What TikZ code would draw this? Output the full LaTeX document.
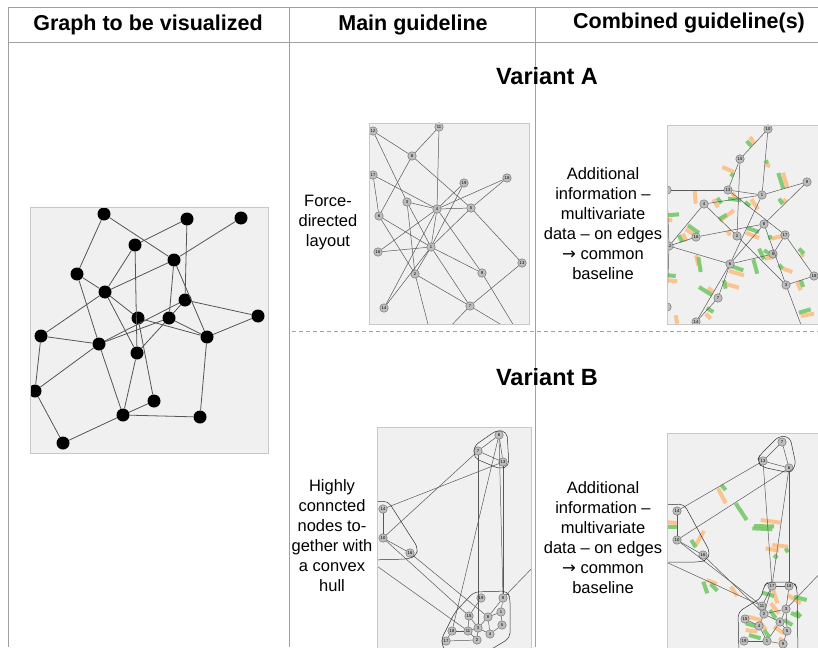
\documentclass[tikz,border=0pt]{standalone}
\usepackage{fontspec}
\setmainfont{Liberation Sans}
\newfontfamily\arrowfont{DejaVu Sans}
\usetikzlibrary{calc}
\definecolor{panelgray}{HTML}{F0F0F0}
\definecolor{panelline}{HTML}{C8C8C8}
\definecolor{rulegray}{HTML}{A0A0A0}
\definecolor{edgegray}{HTML}{555555}
\definecolor{nodegray}{HTML}{BDBDBD}
\definecolor{barorange}{HTML}{FDBF86}
\definecolor{bargreen}{HTML}{78C96A}
\newcommand*{\bnode}[3]{\node[bignode] (#1) at (#2,#3) {};}
\newcommand*{\snode}[4]{\node[smallnode] (#1) at (#2,#3) {#4};}
\newcommand*{\toarrow}{{\arrowfont →}}
\tikzset{
  panel/.style={fill=panelgray},
  panelframe/.style={draw=panelline, line width=0.8pt},
  bignode/.style={circle, fill=black, minimum size=13pt, inner sep=0pt},
  smallnode/.style={circle, draw=gray!80!black, fill=nodegray, line width=0.4pt,
    minimum size=8.5pt, inner sep=0pt, font=\fontsize{4.2}{4.2}\selectfont},
  bigedge/.style={draw=edgegray, line width=0.8pt},
  smalledge/.style={draw=gray!70!black, line width=0.5pt},
  hull/.style={draw=gray!40!black, line width=0.5pt, rounded corners=5pt},
  obar/.style={draw=barorange, line width=4pt, opacity=0.9},
  gbar/.style={draw=bargreen, line width=4pt, opacity=0.9},
  rule/.style={draw=rulegray, line width=0.9pt},
  head/.style={font=\bfseries\fontsize{21.5}{24}\selectfont},
  variant/.style={font=\bfseries\fontsize{23.5}{26}\selectfont},
  note/.style={align=center, font=\fontsize{16.5}{20}\selectfont},
}
\begin{document}
\begin{tikzpicture}[x=1pt,y=-1pt]
\useasboundingbox (0,0) rectangle (818,647);
% table rules
\draw[rule] (8,7) -- (818,7);
\draw[rule] (8,42) -- (818,42);
\draw[rule] (8,7) -- (8,647);
\draw[rule] (289,7) -- (289,647);
\draw[rule] (535,7) -- (535,647);
\draw[rule, dash pattern=on 4pt off 3pt] (292,331) -- (818,331);

% headers
\node[head] (head1) at (148,25) {Graph to be visualized};
\node[head] (head2) at (413,25) {Main guideline};
\node[head] (head3) at (689,23) {Combined guideline(s)};
\node[variant] (varA) at (547,76) {Variant A};
\node[variant] (varB) at (547,377) {Variant B};

% side notes
\node[note] (noteA1) at (328,223) {Force-\\directed\\layout};
\node[note] (noteA2) at (603,224) {Additional\\information --\\multivariate\\data -- on edges\\\toarrow{} common\\baseline};
\node[note] (noteB1) at (332,536) {Highly\\conncted\\nodes to-\\gether with\\a convex\\hull};
\node[note] (noteB2) at (603,538) {Additional\\information --\\multivariate\\data -- on edges\\\toarrow{} common\\baseline};

% ---- graph to be visualized
\begin{scope}
\clip (30,207) rectangle (268,453);
\fill[panel] (30,207) rectangle (268,453);
\bnode{g1}{104}{214} \bnode{g2}{187}{219} \bnode{g3}{241}{218}
\bnode{g4}{135}{245} \bnode{g5}{174}{260} \bnode{g6}{77}{274}
\bnode{g7}{105}{292} \bnode{g8}{185}{300} \bnode{g9}{258}{316}
\bnode{g10}{138}{318} \bnode{g11}{169}{318} \bnode{g12}{41}{336}
\bnode{g13}{99}{344} \bnode{g14}{207}{337} \bnode{g15}{137}{353}
\bnode{g16}{35}{391} \bnode{g17}{154}{401} \bnode{g18}{123}{415}
\bnode{g19}{200}{417} \bnode{g20}{63}{443}
\foreach \a/\b in {g1/g6, g1/g5, g2/g4, g2/g8, g3/g5, g5/g7, g7/g12, g4/g7,
  g4/g15, g10/g17, g5/g11, g5/g14, g6/g7, g6/g13, g7/g10, g7/g15, g8/g9,
  g13/g8, g13/g11, g15/g11, g11/g8, g10/g14, g11/g14, g9/g14, g12/g13,
  g12/g16, g13/g16, g13/g18, g15/g18, g17/g18, g18/g19, g14/g19, g16/g20, g20/g18}
  \draw[bigedge] (\a) -- (\b);
\end{scope}
\draw[panelframe] (30,207) rectangle (268,453);

% ---- variant A, main guideline
\begin{scope}
\clip (369,123) rectangle (529,324);
\fill[panel] (369,123) rectangle (529,324);
\snode{a12}{373}{131}{12} \snode{a11}{439}{127}{11} \snode{a8}{412}{156}{8}
\snode{a17}{373}{175}{17} \snode{a19}{464}{183}{19} \snode{a18}{507}{178}{18}
\snode{a3}{407}{202}{3} \snode{a4}{437}{209}{4} \snode{a5}{471}{208}{5}
\snode{a6}{379}{216}{6} \snode{a16}{378}{252}{16} \snode{a1}{431}{247}{1}
\snode{a13}{522}{263}{13} \snode{a9}{482}{273}{9} \snode{a2}{415}{274}{2}
\snode{a14}{384}{308}{14} \snode{a7}{470}{306}{7}
\coordinate (aoff1) at (430,332);
\coordinate (aoff2) at (445,332);
\coordinate (aoff3) at (520,336);
\foreach \a/\b in {a12/a8, a8/a11, a11/a4, a12/a3, a8/a6, a8/a5, a17/a6, a17/a4,
  a19/a4, a19/a1, a18/a4, a18/a5, a3/a4, a3/a2, a3/a1, a4/a5, a4/a16, a4/a1,
  a4/a9, a4/a14, a5/a1, a5/a13, a6/a1, a6/a2, a16/a1, a1/a9, a1/a7, a1/a14,
  a1/a2, a2/a7, a2/aoff1, a13/a7, a7/aoff2, a9/aoff3, a7/aoff3}
  \draw[smalledge] (\a) -- (\b);
\end{scope}
\draw[panelframe] (369,123) rectangle (529,324);

% ---- variant A, combined guideline
\begin{scope}
\clip (667,125) rectangle (822,324);
\fill[panel] (667,125) rectangle (822,324);
\foreach \xa/\ya/\xb/\yb in {750/137/754.7/143.7, 765.7/164.7/770/166,
  722.3/167/734/172, 783/172.7/787.3/187.7, 694.7/190.3/695.7/203.7,
  783/199.3/786/202, 713.3/199.3/718/207.3, 732.3/192.7/735.7/198.7,
  751.3/199.3/758/209.3, 667.3/220/672.3/220.3, 720/220.7/734/210.3,
  685.7/229.3/693.3/234, 683/233.7/686.3/241.3, 745.7/232.7/759/238,
  727.3/230.7/730/235.3, 771.3/238.7/782.3/236, 764.7/258.7/774/257,
  696/255.3/698.3/265.3, 729/271/744/275.3, 667.3/280.3/677.3/281.3,
  708/288/713.3/292, 724.7/283.7/739/287.7, 780.7/267.7/792.3/272,
  797.3/282/800.7/290.3, 800.7/316/814/313.7, 800.7/253.7/803.3/257,
  705.7/313.7/710.7/318.7, 675.7/315.3/677.3/323.7}
  \draw[obar] (\xa,\ya) -- (\xb,\yb);
\foreach \xa/\ya/\xb/\yb in {746.7/141/751.3/146, 765.7/160.3/767.3/163.7,
  730.7/173.7/733.3/176, 778.3/173/783.3/188.7, 779/198.7/782.7/204,
  717.3/198/721.3/203.3, 728/198.7/741.3/200.3, 745/202/750/206,
  667.3/215.3/679/214.3, 719/219.3/726.7/214.7, 688/225.3/699/233,
  679/235.3/682.3/242, 747.3/228/759/232, 769.3/235.3/770.7/239.3,
  759/248.7/764/259.3, 753.3/259.3/757.3/273.7, 764/250.3/771.3/254.7,
  698.3/257/700.7/272, 730.7/266/743.3/270.3, 667.3/275.3/675.7/276,
  699/287/712.3/295.3, 724/280.3/725.7/288.7, 779/264.7/782.3/268.7,
  800.7/280.3/803.3/287, 799/312.7/810.7/309.3, 799/248.7/804/253.7,
  706.7/308/713.3/312}
  \draw[gbar] (\xa,\ya) -- (\xb,\yb);
\snode{c10}{768}{129}{10} \snode{c15}{740}{159}{15} \snode{c13}{728}{190}{13}
\snode{c1}{762}{195}{1} \snode{c9}{807}{182}{9} \snode{c0}{667}{190}{}
\snode{c4}{704}{204}{4} \snode{c8}{764}{224}{8} \snode{c17}{785}{235}{17}
\snode{c16}{696}{237}{16} \snode{c2}{737}{236}{2} \snode{c12}{669}{246}{12}
\snode{c5}{773}{254}{5} \snode{c6}{730}{264}{6} \snode{c18}{814}{276}{18}
\snode{c3}{786}{285}{3} \snode{c7}{718}{298}{7} \snode{c14}{696}{322}{14}
\snode{c11}{667}{307}{}
\coordinate (coff1) at (803,330);
\foreach \a/\b in {c10/c15, c10/c1, c15/c13, c15/c2, c13/c0, c13/c1, c4/c1,
  c4/c2, c4/c12, c1/c9, c9/c8, c1/c6, c13/c17, c16/c8, c12/c16, c12/c6,
  c12/c0, c12/c11, c17/c18, c17/c5, c8/c3, c2/c3, c5/c6, c6/c8, c6/c7,
  c6/c14, c7/c14, c3/c18, c3/coff1}
  \draw[smalledge] (\a) -- (\b);
\end{scope}
\draw[panelframe] (822,125) -- (667,125) -- (667,324) -- (822,324);

% ---- variant B, main guideline
\begin{scope}
\clip (377,427) rectangle (531,650);
\fill[panel] (377,427) rectangle (531,650);
\snode{b6}{499}{435}{6} \snode{b7}{478}{451}{7} \snode{b13}{503}{462}{13}
\snode{b14}{383}{509}{14} \snode{b10}{383}{538}{10} \snode{b16}{410}{553}{16}
\snode{b19}{481}{598}{19} \snode{b9}{503}{598}{9} \snode{b1}{501}{612}{1}
\snode{b8}{488}{617}{8} \snode{b15}{469}{616}{15} \snode{b5}{502}{625}{5}
\snode{b3}{478}{628}{3} \snode{b11}{468}{631}{11} \snode{b4}{490}{634}{4}
\snode{b18}{452}{631}{18} \snode{b2}{477}{640}{2} \snode{b17}{446}{641}{17}
\coordinate (boff1) at (360,554);
\coordinate (boff2) at (540,560);
\foreach \a/\b in {b6/b7, b6/b13, b7/b13, b7/b3, b6/b9, b13/b9, b6/b18,
  b13/b14, b7/b10, b14/b10, b10/b16, b10/b15, b16/b8, boff1/b11, b9/boff2,
  b19/b15, b9/b1, b9/b8, b1/b8, b1/b5, b8/b3, b15/b11, b15/b3, b3/b11,
  b3/b4, b3/b2, b4/b5, b4/b8, b11/b18, b18/b17, b2/b17, b11/b2}
  \draw[smalledge] (\a) -- (\b);
\draw[hull] (474,446) -- (497,430) -- (507,432) -- (509,466) -- (500,469) -- (474,458) -- cycle;
\draw[hull] (370,502) -- (388,501) -- (418,548) -- (416,556) -- (408,559) -- (370,560);
\draw[hull] (474,592) -- (507,591) -- (510,598) -- (510,638) -- (490,650) -- (445,652)
  -- (441,640) -- (455,612) -- cycle;
\end{scope}
\draw[panelframe] (377,650) -- (377,427) -- (531,427) -- (531,650);

% ---- variant B, combined guideline
\begin{scope}
\clip (667,433) rectangle (822,650);
\fill[panel] (667,433) rectangle (822,650);
\foreach \xa/\ya/\xb/\yb in {718/488.3/725.7/503.3, 667.3/522.3/676.7/523,
  695.7/545/704/531, 760.7/520/780.7/522.7, 765.7/548.3/779/550.7,
  772.3/545/788/546.7, 706.7/580/716.7/584, 730.7/586.7/737.3/596,
  773.3/590/777.3/603.3, 788/595/800.7/603.3, 747.3/616.7/760.7/620,
  745.7/630/757.3/631.7, 770.7/603.3/779/613.3, 774/626.7/784/633.3,
  779/638.3/785.7/643.3, 760/622/766/630}
  \draw[obar] (\xa,\ya) -- (\xb,\yb);
\foreach \xa/\ya/\xb/\yb in {721.3/485/725.7/490, 735.7/503.3/746.7/520,
  667.3/527.3/676.7/527.3, 691.3/540/695.7/547.3, 752.3/528.3/772.3/529.3,
  754/526/774/526.5, 774/555/777.3/558.3, 785.7/548.3/788/552.3,
  703.3/581.7/707.3/593.3, 710.7/584/717.3/590.7, 762.3/592.7/774/596,
  794/596.7/806.7/600, 795.7/611.7/800.7/616.7, 791/613/800/617,
  745.7/623.3/757.3/626.7, 749/635/760.7/638.3, 770/610/775.7/618.3,
  764/630/769/636.7, 784/620/792.3/625}
  \draw[gbar] (\xa,\ya) -- (\xb,\yb);
\snode{d7}{782}{442}{7} \snode{d13}{763}{461}{13} \snode{d6}{789}{468}{6}
\snode{d14}{677}{511}{14} \snode{d10}{677}{540}{10} \snode{d16}{703}{555}{16}
\snode{d17}{772}{586}{17} \snode{d18}{789}{586}{18} \snode{d11}{762}{606}{11}
\snode{d2}{764}{614}{2} \snode{d3}{786}{609}{3} \snode{d15}{745}{619}{15}
\snode{d4}{759}{626}{4} \snode{d8}{780}{622}{8} \snode{d5}{787}{631}{5}
\snode{d19}{744}{641}{19} \snode{d1}{767}{641}{1} \snode{d9}{783}{644}{9}
\coordinate (doff1) at (655,557);
\coordinate (doff2) at (825,568);
\foreach \a/\b in {d7/d13, d7/d6, d13/d6, d13/d14, d6/d10, d14/d10, d10/d16,
  d10/d11, d16/d2, doff1/d11, d6/d17, d6/d18, d13/d17, d17/d18, d17/d11,
  d17/d2, d18/d3, d11/d2, d2/d3, d2/d4, d2/d8, d15/d4, d3/d8, d3/d5, d8/d5,
  d4/d1, d19/d1, d1/d9, d5/d9, d8/d1, d3/doff2}
  \draw[smalledge] (\a) -- (\b);
\draw[hull] (760,455) -- (779,436) -- (790,437) -- (796,465) -- (790,473) -- (762,467) -- (757,461) -- cycle;
\draw[hull] (660,505) -- (684,504) -- (710,552) -- (707,560) -- (700,562) -- (660,562);
\draw[hull] (764,586) -- (768,582) -- (794,582) -- (797,588) -- (798,655) -- (739,655)
  -- (738,612) -- (761,598) -- cycle;
\end{scope}
\draw[panelframe] (667,650) -- (667,433) -- (822,433);
\end{tikzpicture}
\end{document}
